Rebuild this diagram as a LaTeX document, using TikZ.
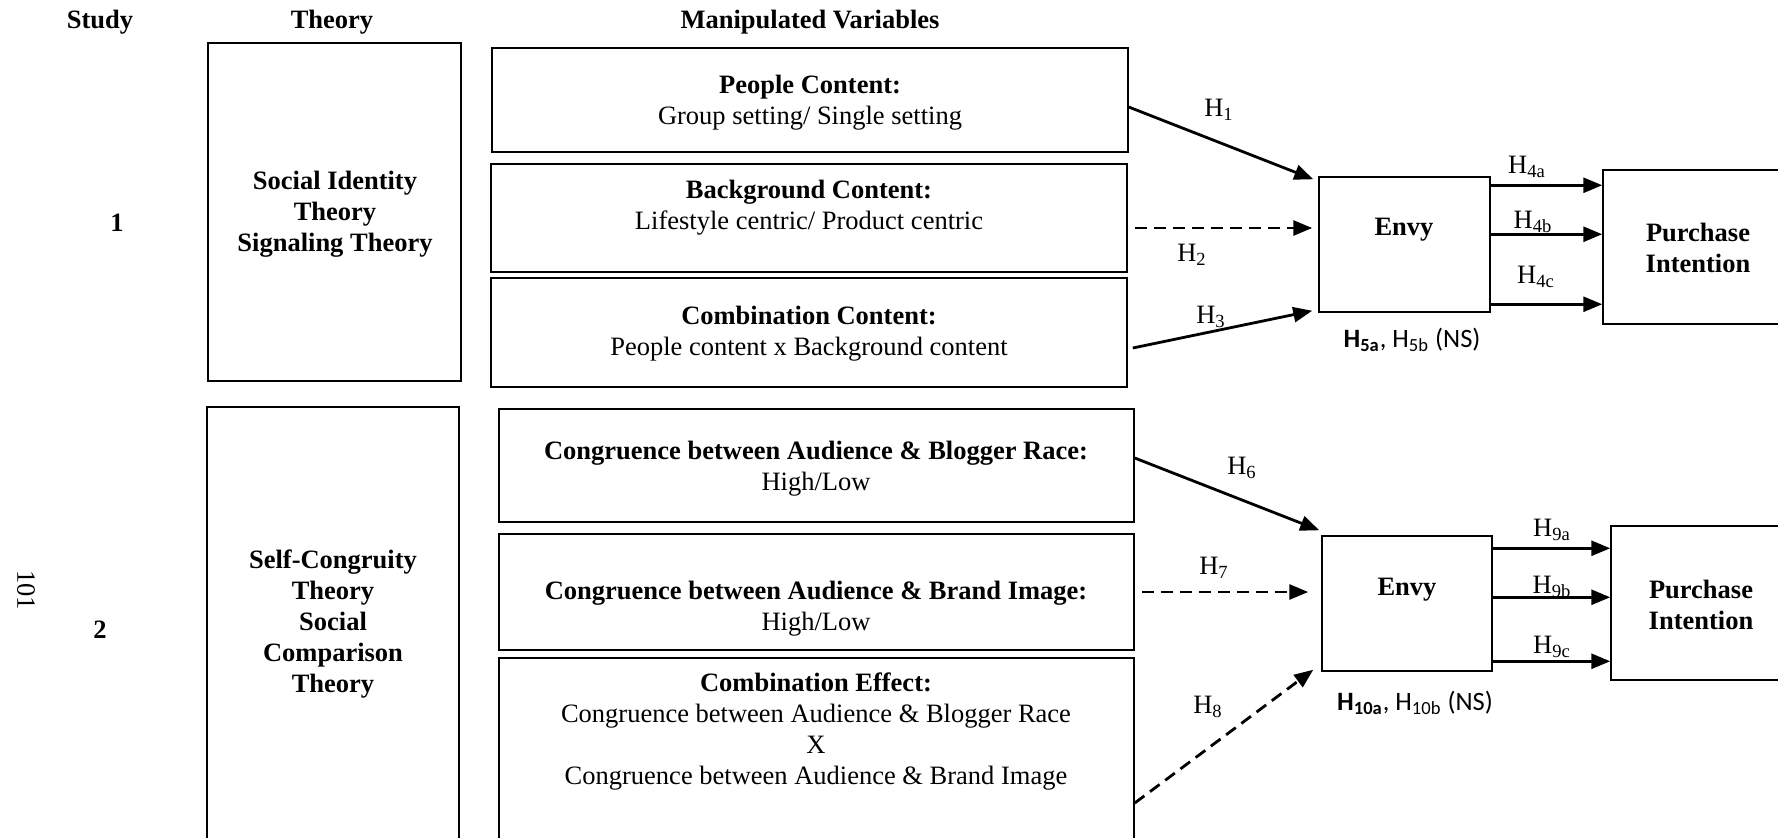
\documentclass[tikz,border=0pt]{standalone}
\usepackage{fontspec}
\setmainfont{Liberation Serif}
\newfontfamily\carlito{Carlito}
\usetikzlibrary{arrows.meta,fit,calc}
\begin{document}
\begin{tikzpicture}[x=0.5pt,y=-0.5pt,
  box/.style={draw, inner sep=0pt, line width=0.75pt},
  thickbox/.style={draw, inner sep=0pt, line width=1.25pt},
  txt/.style={font=\fontsize{13.25}{15.5}\selectfont, align=center, inner sep=0pt},
  bt/.style={txt, font=\fontsize{13.25}{15.5}\selectfont\bfseries},
  lab/.style={font=\fontsize{13.25}{15.5}\selectfont, inner sep=0pt},
  ns/.style={font=\fontsize{13.25}{15.5}\selectfont\carlito, inner sep=0pt},
  arr/.style={line width=1.4pt, -{Triangle[length=9.5pt,width=7.5pt]}},
  darr/.style={arr, dash pattern=on 6pt off 3.5pt}]
\clip (0,0) rectangle (1778,837);
\fill[white] (0,0) rectangle (1778,837);
% headers
\node[bt] (hstudy) at (100,22) {Study};
\node[bt] (htheory) at (332,22) {Theory};
\node[bt] (hmanip) at (810,22) {Manipulated Variables};
\node[bt] (s1) at (117,223) {1};
\node[bt] (s2) at (100,630) {2};
\node[txt, rotate=-90] (pg) at (26,590) {101};
% theory boxes
\node[box, fit={(208,43) (461,381)}] (th1) {};
\node[box, fit={(207,407) (459,900)}] (th2) {};
\node[bt] (th1t) at (335,214) {Social Identity\\Theory\\Signaling Theory};
\node[bt] (th2t) at (333,624) {Self-Congruity\\Theory\\Social\\Comparison\\Theory};
% study 1 boxes
\node[box, fit={(492,48) (1128,152)}] (b1) {};
\node[box, fit={(491,164) (1127,272)}] (b2) {};
\node[box, fit={(491,278) (1127,387)}] (b3) {};
\node[txt] (b1t) at (810,103) {\textbf{People Content:}\\Group setting/ Single setting};
\node[txt] (b2t) at (809,208) {\textbf{Background Content:}\\Lifestyle centric/ Product centric};
\node[txt] (b3t) at (809,333.5) {\textbf{Combination Content:}\\People content x Background content};
% study 2 boxes
\node[box, fit={(499,409) (1134,522)}] (b4) {};
\node[thickbox, fit={(499,534) (1134,650)}] (b5) {};
\node[box, fit={(499,658) (1134,900)}] (b6) {};
\node[txt] (b4t) at (816,468.5) {\textbf{Congruence between Audience \& Blogger Race:}\\High/Low};
\node[txt] (b5t) at (816,608.5) {\textbf{Congruence between Audience \& Brand Image:}\\High/Low};
\node[txt] (b6t) at (816,731.5) {\textbf{Combination Effect:}\\Congruence between Audience \& Blogger Race\\X\\Congruence between Audience \& Brand Image};
% envy / purchase
\node[box, fit={(1319,177) (1490,312)}] (e1) {};
\node[box, fit={(1603,170) (1800,324)}] (p1) {};
\node[box, fit={(1322,536) (1492,671)}] (e2) {};
\node[box, fit={(1611,526) (1800,680)}] (p2) {};
\node[bt] (e1t) at (1404,230) {Envy};
\node[bt] (p1t) at (1698,248) {Purchase\\Intention};
\node[bt] (e2t) at (1407,590) {Envy};
\node[bt] (p2t) at (1701,605) {Purchase\\Intention};
% arrows study 1
\draw[arr] ($(b1.east)+(0,7)$) -- ($(e1.north west)+(-5,3)$);
\draw[darr] ($(b2.east)+(7,10)$) -- ($(e1.west)+(-6,-16.5)$);
\draw[arr] ($(b3.east)+(5,15.5)$) -- ($(e1.south west)+(-6,-2)$);
\draw[arr] ($(e1.north east)+(0,9)$) -- ($(p1.north west)+(0,16)$);
\draw[arr] ($(e1.north east)+(0,58)$) -- ($(p1.north west)+(0,65)$);
\draw[arr] ($(e1.north east)+(0,128)$) -- ($(p1.north west)+(0,135)$);
% arrows study 2
\draw[arr] ($(b4.east)+(0,-7.5)$) -- ($(e2.north west)+(-2,-5)$);
\draw[darr] ($(b5.east)+(7,0)$) -- ($(e2.west)+(-13,-11.5)$);
\draw[darr] ($(b6.east)+(0,24)$) -- ($(e2.south west)+(-8,-2)$);
\draw[arr] ($(e2.north east)+(0,13)$) -- ($(p2.north west)+(0,23)$);
\draw[arr] ($(e2.north east)+(0,62)$) -- ($(p2.north west)+(0,72)$);
\draw[arr] ($(e2.north east)+(0,126)$) -- ($(p2.north west)+(0,136)$);
% labels
\node[lab] (l1) at (1219,110) {H\textsubscript{1}};
\node[lab] (l2) at (1192,255) {H\textsubscript{2}};
\node[lab] (l3) at (1211,317) {H\textsubscript{3}};
\node[lab] (l4a) at (1527,167) {H\textsubscript{4a}};
\node[lab] (l4b) at (1533,222) {H\textsubscript{4b}};
\node[lab] (l4c) at (1536,277) {H\textsubscript{4c}};
\node[ns] (l5) at (1412,340) {\textbf{H\textsubscript{5a}}, H\textsubscript{5b} (NS)};
\node[lab] (l6) at (1242,468) {H\textsubscript{6}};
\node[lab] (l7) at (1214,568) {H\textsubscript{7}};
\node[lab] (l8) at (1208,707) {H\textsubscript{8}};
\node[lab] (l9a) at (1552,530) {H\textsubscript{9a}};
\node[lab] (l9b) at (1552,587) {H\textsubscript{9b}};
\node[lab] (l9c) at (1552,647) {H\textsubscript{9c}};
\node[ns] (l10) at (1415,703) {\textbf{H\textsubscript{10a}}, H\textsubscript{10b} (NS)};
\end{tikzpicture}
\end{document}
